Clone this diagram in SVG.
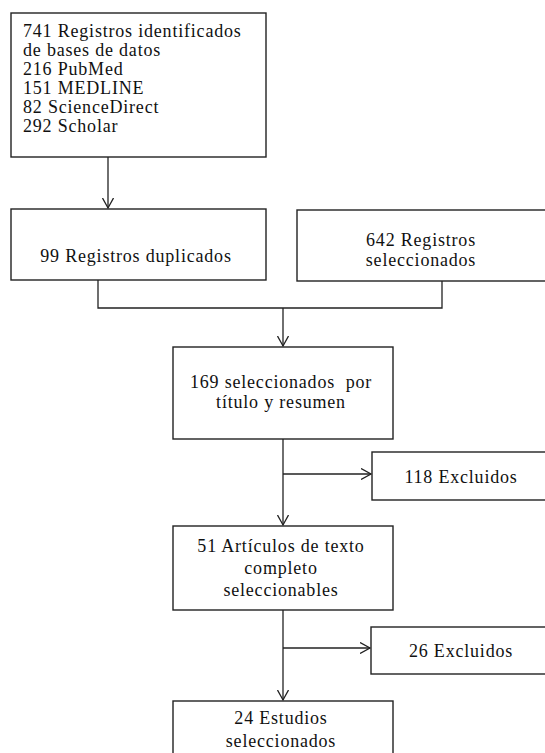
<svg xmlns="http://www.w3.org/2000/svg" width="545" height="753" viewBox="0 0 545 753">
<style>
.box{fill:#fff;stroke:#222;stroke-width:1.4}
.t{font-family:"Liberation Serif","Times New Roman",serif;font-size:18px;letter-spacing:0.8px;fill:#111}
.c{text-anchor:middle}
.ln{fill:none;stroke:#222;stroke-width:1.3}
</style>
<defs>
<marker id="ah" markerUnits="userSpaceOnUse" markerWidth="12" markerHeight="12" refX="10" refY="6" orient="auto">
<path d="M0,0.5 L10,6 L0,11.5" fill="none" stroke="#222" stroke-width="1.3"/>
</marker>
</defs>
<rect width="545" height="753" fill="#fff"/>
<g id="connectors">
<line class="ln" x1="108" y1="157" x2="108" y2="208" marker-end="url(#ah)"/>
<polyline class="ln" points="98,280 98,308 442,308 442,281"/>
<line class="ln" x1="283" y1="308" x2="283" y2="346" marker-end="url(#ah)"/>
<line class="ln" x1="283" y1="439" x2="283" y2="525" marker-end="url(#ah)"/>
<line class="ln" x1="283" y1="474" x2="371" y2="474" marker-end="url(#ah)"/>
<line class="ln" x1="283" y1="610" x2="283" y2="700" marker-end="url(#ah)"/>
<line class="ln" x1="283" y1="648" x2="370" y2="648" marker-end="url(#ah)"/>
</g>
<g id="n1">
<rect class="box" x="11" y="13" width="255" height="144"/>
<text class="t" x="23" y="37">741 Registros identificados</text>
<text class="t" x="23" y="56">de bases de datos</text>
<text class="t" x="23" y="75">216 PubMed</text>
<text class="t" x="23" y="94">151 MEDLINE</text>
<text class="t" x="23" y="113">82 ScienceDirect</text>
<text class="t" x="23" y="132">292 Scholar</text>
</g>
<g id="n2">
<rect class="box" x="11" y="209" width="255" height="71"/>
<text class="t c" x="136" y="262">99 Registros duplicados</text>
</g>
<g id="n3">
<rect class="box" x="297" y="210" width="260" height="71"/>
<text class="t c" x="421" y="246">642 Registros</text>
<text class="t c" x="421" y="266">seleccionados</text>
</g>
<g id="n4">
<rect class="box" x="173" y="347" width="220" height="92"/>
<text class="t c" x="281" y="388" xml:space="preserve">169 seleccionados  por</text>
<text class="t c" x="281" y="408">título y resumen</text>
</g>
<g id="n5">
<rect class="box" x="372" y="452" width="185" height="48"/>
<text class="t c" x="461" y="483">118 Excluidos</text>
</g>
<g id="n6">
<rect class="box" x="173" y="526" width="220" height="84"/>
<text class="t c" x="281" y="552">51 Artículos de texto</text>
<text class="t c" x="281" y="574">completo</text>
<text class="t c" x="281" y="596">seleccionables</text>
</g>
<g id="n7">
<rect class="box" x="371" y="627" width="186" height="47"/>
<text class="t c" x="461" y="657">26 Excluidos</text>
</g>
<g id="n8">
<rect class="box" x="173" y="701" width="220" height="70"/>
<text class="t c" x="281" y="724">24 Estudios</text>
<text class="t c" x="281" y="747">seleccionados</text>
</g>
</svg>
